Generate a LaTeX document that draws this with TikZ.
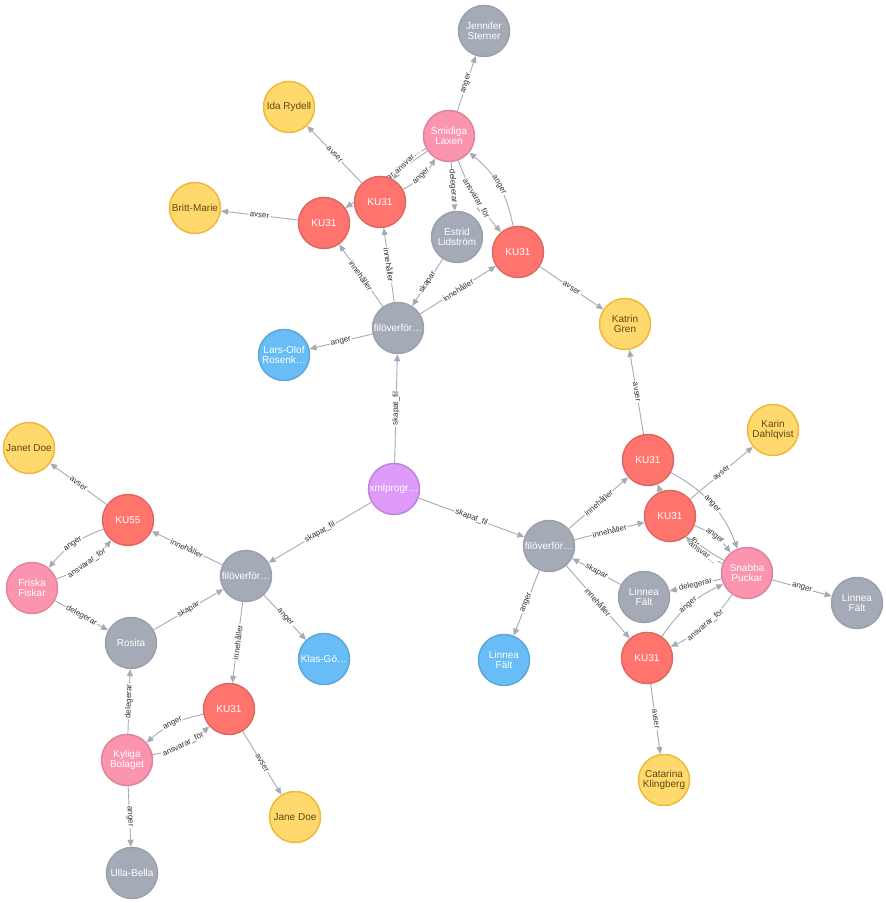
\documentclass[tikz,border=0pt]{standalone}
\usepackage{fontspec}
\setmainfont{Liberation Sans}
\usetikzlibrary{arrows.meta,backgrounds}

\definecolor{redFill}{HTML}{FF756E}
\definecolor{redLine}{HTML}{E06760}
\definecolor{pinkFill}{HTML}{FB95AF}
\definecolor{pinkLine}{HTML}{E0849B}
\definecolor{grayFill}{HTML}{A5ABB6}
\definecolor{grayLine}{HTML}{9AA1AC}
\definecolor{yellowFill}{HTML}{FFD86E}
\definecolor{yellowLine}{HTML}{EDBA39}
\definecolor{yellowText}{HTML}{604A0E}
\definecolor{blueFill}{HTML}{68BDF6}
\definecolor{blueLine}{HTML}{5CA8DB}
\definecolor{purpleFill}{HTML}{DE9BF9}
\definecolor{purpleLine}{HTML}{BF85D6}
\definecolor{relColor}{HTML}{A5ABB6}
\definecolor{relText}{HTML}{333333}

\newcommand\nodeSize{51pt}
\newcommand\nodeFont{\fontsize{10}{10.5}\selectfont}
\newcommand\relFont{\fontsize{8}{8}\selectfont}

\tikzset{
	entity/.style={circle, minimum size=\nodeSize, inner sep=0pt, line width=1.5pt,
		align=center, text=white, font=\nodeFont},
	nodeRed/.style={entity, fill=redFill, draw=redLine},
	nodePink/.style={entity, fill=pinkFill, draw=pinkLine},
	nodeGray/.style={entity, fill=grayFill, draw=grayLine},
	nodeYellow/.style={entity, fill=yellowFill, draw=yellowLine, text=yellowText},
	nodeBlue/.style={entity, fill=blueFill, draw=blueLine},
	nodePurple/.style={entity, fill=purpleFill, draw=purpleLine},
	rel/.style={draw=relColor, line width=0.9pt, -{Triangle[length=7pt,width=6pt]}},
	relLabel/.style={sloped, fill=white, inner sep=1pt, text=relText, font=\relFont}
}

\begin{document}
\begin{tikzpicture}[x=1pt,y=1pt]
	\useasboundingbox (0,0) rectangle (886,903);
	
	% KU nodes
	\foreach \n/\x/\y/\lbl in {KUa/324/680/KU31, KUb/380/701/KU31, KUc/518/651/KU31,
		KUd/648/443/KU31, KUe/670/387/KU31, KUf/647/245/KU31,
		KUg/229/194/KU31, KUff/128/383/KU55}{
		\node[nodeRed] (\n) at (\x,\y) {\lbl};
	}
	% companies
	\foreach \n/\x/\y/\lbl in {SL/449/767/Smidiga\\Laxen, SP/747/330/Snabba\\Puckar,
		FF/32/315/Friska\\Fiskar, KB/127/143/Kyliga\\Bolaget}{
		\node[nodePink] (\n) at (\x,\y) {\lbl};
	}
	% persons and files
	\foreach \n/\x/\y/\lbl in {JS/484/872/Jennifer\\Sterner, ES/457/666/Estrid\\Lidström,
		Fa/398/575/filöverför…, Fb/549/357/filöverför…, Fc/246/327/filöverför…,
		LFa/644/306/Linnea\\Fält, LFb/857/300/Linnea\\Fält,
		RO/131/260/Rosita, UB/132/30/Ulla-Bella}{
		\node[nodeGray] (\n) at (\x,\y) {\lbl};
	}
	% receivers
	\foreach \n/\x/\y/\lbl in {IR/289/796/Ida Rydell, BM/195/695/Britt-Marie,
		KG/625/579/Katrin\\Gren, KD/773/473/Karin\\Dahlqvist,
		CK/664/123/Catarina\\Klingberg, JD/29/455/Janet Doe, JaD/295/86/Jane Doe}{
		\node[nodeYellow] (\n) at (\x,\y) {\lbl};
	}
	% contacts
	\foreach \n/\x/\y/\lbl in {LO/284/548/Lars-Olof\\Rosenk…, LFc/504/243/Linnea\\Fält,
		KGo/324/244/Klas-Gö…}{
		\node[nodeBlue] (\n) at (\x,\y) {\lbl};
	}
	\node[nodePurple] (XML) at (394,414) {xmlprogr…};
	
	\begin{scope}[on background layer]
		% single relations
		\foreach \a/\b/\lbl in {SL/JS/anger, KUb/IR/avser, KUa/BM/avser,
			SL/KUa/ansvarar\_för, SL/ES/delegerar, Fa/KUa/innehåller,
			Fa/KUb/innehåller, ES/Fa/skapar, Fa/KUc/innehåller, Fa/LO/anger,
			KUc/KG/avser, XML/Fa/skapat\_fil, XML/Fb/skapat\_fil, XML/Fc/skapat\_fil,
			KUd/KG/avser, Fb/KUd/innehåller, Fb/KUe/innehåller, KUe/KD/avser,
			SP/LFa/delegerar, LFa/Fb/skapar, Fb/KUf/innehåller, SP/LFb/anger,
			Fb/LFc/anger, KUf/CK/avser, KUff/JD/avser, Fc/KUff/innehåller,
			FF/RO/delegerar, RO/Fc/skapar, Fc/KGo/anger, Fc/KUg/innehåller,
			KB/RO/delegerar, KB/UB/anger, KUg/JaD/avser}{
			\draw[rel] (\a) to node[relLabel]{\lbl} (\b);
		}
		% paired relations
		\foreach \a/\b/\lbl/\bend in {KUb/SL/anger/-15, SL/KUb/ansvar…/-15,
			KUc/SL/anger/-20, SL/KUc/ansvarar\_för/-10,
			KUff/FF/anger/-15, FF/KUff/ansvarar\_för/-15,
			KUg/KB/anger/-15, KB/KUg/ansvarar\_för/-15,
			KUd/SP/anger/20, SP/KUd/ansvarar\_för/20,
			KUe/SP/anger/15, SP/KUe/ansvar…/15,
			KUf/SP/anger/15, SP/KUf/ansvarar\_för/15}{
			\draw[rel] (\a) to[bend left=\bend] node[relLabel]{\lbl} (\b);
		}
	\end{scope}
\end{tikzpicture}
\end{document}
